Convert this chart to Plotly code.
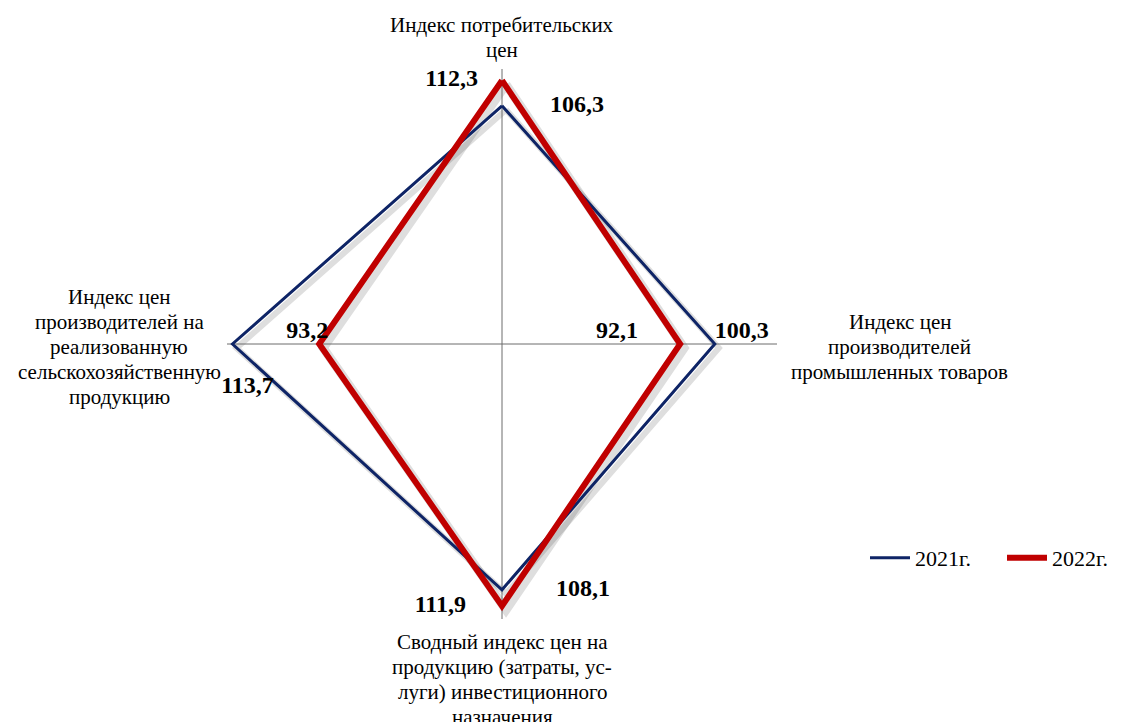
import plotly.graph_objects as go

W, H = 1121, 722

categories = ['Индекс потребительских цен',
              'Индекс цен производителей промышленных товаров',
              'Сводный индекс цен на продукцию (затраты, услуги) инвестиционного назначения',
              'Индекс цен производителей на реализованную сельскохозяйственную продукцию']
values_2021 = [106.3, 100.3, 108.1, 113.7]
values_2022 = [112.3, 92.1, 111.9, 93.2]
labels_2021 = ['106,3', '100,3', '108,1', '113,7']
labels_2022 = ['112,3', '92,1', '111,9', '93,2']

# подписи осей по строкам
axis_lines = [
    ['Индекс потребительских', 'цен'],
    ['Индекс цен', 'производителей', 'промышленных товаров'],
    ['Сводный индекс цен на', 'продукцию (затраты, ус-', 'луги) инвестиционного', 'назначения'],
    ['Индекс цен', 'производителей на', 'реализованную', 'сельскохозяйственную', 'продукцию'],
]

nb = '\u00a0'

def closed(v):
    return list(v) + [v[0]]

fig = go.Figure()

# тень линий: те же ряды на сдвинутой вниз-вправо полярной области
fig.add_trace(go.Scatterpolar(r=closed(values_2021), theta=closed(categories), mode='lines',
                              line=dict(color='rgba(0,0,0,0.13)', width=6), showlegend=False,
                              hoverinfo='skip', subplot='polar'))
fig.add_trace(go.Scatterpolar(r=closed(values_2022), theta=closed(categories), mode='lines',
                              line=dict(color='rgba(0,0,0,0.13)', width=9), showlegend=False,
                              hoverinfo='skip', subplot='polar'))

# подписи значений сдвигаем неразрывными пробелами, как в исходной диаграмме
text_2021 = [nb * 8 + labels_2021[0], labels_2021[1], nb * 9 + labels_2021[2], '<br>' + nb * 5 + labels_2021[3], '']
pos_2021 = ['middle right', 'top right', 'middle right', 'bottom center', 'middle right']
text_2022 = [labels_2022[0] + nb * 4, labels_2022[1] + nb * 7, labels_2022[2] + nb * 6, labels_2022[3] + nb * 4, '']
pos_2022 = ['middle left', 'top left', 'middle left', 'top center', 'middle left']

lab_font = dict(family='Liberation Serif', size=24, color='black', weight='bold')

fig.add_trace(go.Scatterpolar(r=closed(values_2021), theta=closed(categories), name='2021г.',
                              mode='lines+text', line=dict(color='#0E2466', width=3),
                              text=text_2021, textposition=pos_2021, textfont=lab_font,
                              subplot='polar2'))
fig.add_trace(go.Scatterpolar(r=closed(values_2022), theta=closed(categories), name='2022г.',
                              mode='lines+text', line=dict(color='#C00000', width=6),
                              text=text_2022, textposition=pos_2022, textfont=lab_font,
                              subplot='polar2'))

# страница сдвигает рисунок на 8 px (отступ body), поэтому координаты взяты с поправкой
cx, cy, R = 494, 336, 275
sh = 4  # сдвиг тени, px
dom = dict(x=[(cx - R) / W, (cx + R) / W], y=[1 - (cy + R) / H, 1 - (cy - R) / H])
dom_sh = dict(x=[(cx - R + sh) / W, (cx + R + sh) / W], y=[1 - (cy + R + sh) / H, 1 - (cy - R + sh) / H])

radial = dict(range=[50, 115], visible=True, showgrid=False, showline=False,
              showticklabels=False, ticks='')
fig.update_layout(
    width=W, height=H,
    margin=dict(l=0, r=0, t=0, b=0, autoexpand=False),
    paper_bgcolor='white', plot_bgcolor='white',
    font=dict(family='Liberation Serif', size=21, color='black'),
    polar=dict(
        domain=dom_sh, bgcolor='white', radialaxis=radial,
        angularaxis=dict(rotation=90, direction='clockwise', showline=False, showticklabels=False,
                         ticks='', showgrid=False),
    ),
    polar2=dict(
        domain=dom, bgcolor='rgba(0,0,0,0)', radialaxis=radial,
        angularaxis=dict(rotation=90, direction='clockwise', showline=False, showticklabels=False,
                         ticks='', showgrid=True, gridcolor='#6d6d6d', gridwidth=1),
    ),
    legend=dict(orientation='h', x=857 / W, y=1 - 550 / H, xanchor='left', yanchor='middle',
                font=dict(size=22), itemwidth=40, entrywidth=82, entrywidthmode='pixels',
                bgcolor='rgba(0,0,0,0)'),
)

# центр и первая строка каждой подписи, шаг строк 25 px
anchors = [(494, 17), (892, 314), (494, 634), (111, 289)]
for lines, (x, y0) in zip(axis_lines, anchors):
    for i, t in enumerate(lines):
        fig.add_annotation(text=t, x=x / W, y=1 - (y0 + 25 * i) / H, xref='paper', yref='paper',
                           xanchor='center', yanchor='middle', showarrow=False,
                           font=dict(family='Liberation Serif', size=21, color='black'))

fig.write_html('out.html')
